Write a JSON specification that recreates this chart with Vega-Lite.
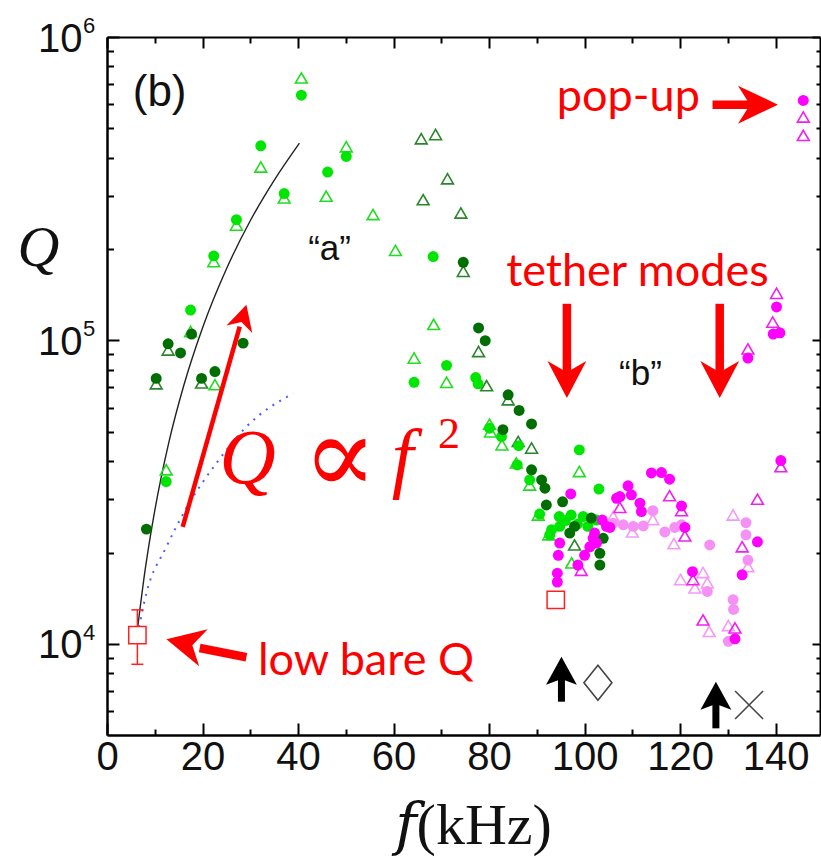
{
  "$schema": "https://vega.github.io/schema/vega-lite/v6.json",
  "width": 713,
  "height": 698,
  "autosize": "none",
  "padding": {"left": 107, "top": 37, "right": 1, "bottom": 123},
  "background": "white",
  "config": {"view": {"stroke": null}, "axis": {"grid": false}},
  "datasets": {
    "curveK": [
      {"f": 6.4, "Q": 11260}, {"f": 8, "Q": 17600}, {"f": 10, "Q": 27500}, {"f": 13, "Q": 46500},
      {"f": 16, "Q": 70400}, {"f": 20, "Q": 110000}, {"f": 25, "Q": 172000}, {"f": 30, "Q": 248000},
      {"f": 35, "Q": 337000}, {"f": 40.3, "Q": 447000}
    ],
    "curveB": [
      {"f": 6.37, "Q": 10700}, {"f": 8.25, "Q": 14700}, {"f": 12.44, "Q": 20900}, {"f": 16.6, "Q": 28000},
      {"f": 22.9, "Q": 39400}, {"f": 29.2, "Q": 52000}, {"f": 39.0, "Q": 67000}
    ],
    "pts": [
      {"f": 40.7, "Q": 733000, "s": "At"}, {"f": 32.2, "Q": 373000, "s": "At"}, {"f": 45.9, "Q": 299000, "s": "At"},
      {"f": 37.1, "Q": 295000, "s": "At"}, {"f": 27.1, "Q": 240000, "s": "At"}, {"f": 22.35, "Q": 182000, "s": "At"},
      {"f": 17.5, "Q": 107000, "s": "At"}, {"f": 12.4, "Q": 37500, "s": "At"}, {"f": 22.6, "Q": 71500, "s": "At"},
      {"f": 50.1, "Q": 435000, "s": "At"}, {"f": 55.7, "Q": 260000, "s": "At"}, {"f": 60.4, "Q": 198000, "s": "At"},
      {"f": 68.4, "Q": 113000, "s": "At"}, {"f": 64.3, "Q": 87500, "s": "At"}, {"f": 71.1, "Q": 72800, "s": "At"},
      {"f": 80.1, "Q": 53000, "s": "At"}, {"f": 82.7, "Q": 45300, "s": "At"}, {"f": 85.7, "Q": 39500, "s": "At"},
      {"f": 88.5, "Q": 33400, "s": "At"}, {"f": 98.9, "Q": 37000, "s": "At"}, {"f": 90.3, "Q": 26600, "s": "At"},
      {"f": 92.5, "Q": 22900, "s": "At"}, {"f": 97.3, "Q": 18500, "s": "At"}, {"f": 80.3, "Q": 50000, "s": "At"},

      {"f": 12.8, "Q": 93000, "s": "Bt"}, {"f": 10.3, "Q": 72000, "s": "Bt"}, {"f": 19.8, "Q": 72500, "s": "Bt"},
      {"f": 65.8, "Q": 462000, "s": "Bt"}, {"f": 68.8, "Q": 477000, "s": "Bt"}, {"f": 71.3, "Q": 341000, "s": "Bt"},
      {"f": 66.2, "Q": 291000, "s": "Bt"}, {"f": 74.1, "Q": 263000, "s": "Bt"}, {"f": 74.6, "Q": 169000, "s": "Bt"},
      {"f": 77.8, "Q": 92000, "s": "Bt"}, {"f": 79.5, "Q": 71000, "s": "Bt"}, {"f": 84.0, "Q": 63800, "s": "Bt"},
      {"f": 86.1, "Q": 46500, "s": "Bt"}, {"f": 88.9, "Q": 44200, "s": "Bt"}, {"f": 97.9, "Q": 21200, "s": "Bt"},

      {"f": 40.7, "Q": 643000, "s": "Ao"}, {"f": 32.2, "Q": 438000, "s": "Ao"}, {"f": 46.2, "Q": 359000, "s": "Ao"},
      {"f": 37.1, "Q": 305000, "s": "Ao"}, {"f": 27.1, "Q": 250000, "s": "Ao"}, {"f": 22.35, "Q": 190000, "s": "Ao"},
      {"f": 17.5, "Q": 126000, "s": "Ao"}, {"f": 12.4, "Q": 34300, "s": "Ao"}, {"f": 50.1, "Q": 404000, "s": "Ao"},
      {"f": 68.3, "Q": 189000, "s": "Ao"}, {"f": 71.1, "Q": 82800, "s": "Ao"}, {"f": 64.3, "Q": 72800, "s": "Ao"},
      {"f": 77.2, "Q": 75500, "s": "Ao"}, {"f": 77.7, "Q": 72000, "s": "Ao"}, {"f": 80.1, "Q": 51400, "s": "Ao"},
      {"f": 82.6, "Q": 48200, "s": "Ao"}, {"f": 86.2, "Q": 45000, "s": "Ao"}, {"f": 98.9, "Q": 43600, "s": "Ao"},
      {"f": 85.9, "Q": 38900, "s": "Ao"}, {"f": 88.5, "Q": 34700, "s": "Ao"}, {"f": 103.0, "Q": 32400, "s": "Ao"},
      {"f": 90.6, "Q": 26800, "s": "Ao"}, {"f": 94.7, "Q": 26300, "s": "Ao"}, {"f": 97.2, "Q": 26600, "s": "Ao"},
      {"f": 99.7, "Q": 26300, "s": "Ao"}, {"f": 102.5, "Q": 25600, "s": "Ao"}, {"f": 94.8, "Q": 24400, "s": "Ao"},
      {"f": 93.1, "Q": 23800, "s": "Ao"}, {"f": 100.7, "Q": 24400, "s": "Ao"}, {"f": 92.7, "Q": 22900, "s": "Ao"},
      {"f": 96.0, "Q": 25500, "s": "Ao"}, {"f": 98.5, "Q": 24800, "s": "Ao"},

      {"f": 17.7, "Q": 105000, "s": "Bo"}, {"f": 12.8, "Q": 97500, "s": "Bo"}, {"f": 15.4, "Q": 91000, "s": "Bo"},
      {"f": 28.5, "Q": 98000, "s": "Bo"}, {"f": 22.6, "Q": 79000, "s": "Bo"}, {"f": 19.8, "Q": 75000, "s": "Bo"},
      {"f": 10.3, "Q": 75000, "s": "Bo"}, {"f": 8.25, "Q": 23900, "s": "Bo"}, {"f": 74.6, "Q": 181000, "s": "Bo"},
      {"f": 77.8, "Q": 110000, "s": "Bo"}, {"f": 79.2, "Q": 99800, "s": "Bo"}, {"f": 84.0, "Q": 66200, "s": "Bo"},
      {"f": 86.3, "Q": 58800, "s": "Bo"}, {"f": 88.9, "Q": 53100, "s": "Bo"}, {"f": 82.9, "Q": 50800, "s": "Bo"},
      {"f": 88.9, "Q": 37500, "s": "Bo"}, {"f": 91.0, "Q": 34700, "s": "Bo"}, {"f": 91.7, "Q": 32600, "s": "Bo"},
      {"f": 92.0, "Q": 28700, "s": "Bo"}, {"f": 95.4, "Q": 29400, "s": "Bo"}, {"f": 101.4, "Q": 26000, "s": "Bo"},
      {"f": 97.9, "Q": 24400, "s": "Bo"}, {"f": 96.9, "Q": 23200, "s": "Bo"}, {"f": 103.9, "Q": 22300, "s": "Bo"},
      {"f": 103.2, "Q": 19900, "s": "Bo"}, {"f": 103.2, "Q": 18200, "s": "Bo"},

      {"f": 114.3, "Q": 25700, "s": "Dt"}, {"f": 106.0, "Q": 26300, "s": "Dt"}, {"f": 110.0, "Q": 23400, "s": "Dt"},
      {"f": 118.7, "Q": 21400, "s": "Dt"}, {"f": 131.1, "Q": 26600, "s": "Dt"}, {"f": 134.2, "Q": 18000, "s": "Dt"},
      {"f": 120.1, "Q": 16300, "s": "Dt"}, {"f": 124.8, "Q": 17200, "s": "Dt"}, {"f": 125.7, "Q": 15900, "s": "Dt"},
      {"f": 123.1, "Q": 15300, "s": "Dt"}, {"f": 126.1, "Q": 11000, "s": "Dt"}, {"f": 130.1, "Q": 11500, "s": "Dt"},

      {"f": 114.3, "Q": 27500, "s": "Do"}, {"f": 108.1, "Q": 24700, "s": "Do"}, {"f": 110.2, "Q": 24400, "s": "Do"},
      {"f": 112.3, "Q": 24500, "s": "Do"}, {"f": 116.8, "Q": 23400, "s": "Do"}, {"f": 118.9, "Q": 24200, "s": "Do"},
      {"f": 120.3, "Q": 24700, "s": "Do"}, {"f": 126.2, "Q": 21200, "s": "Do"}, {"f": 133.8, "Q": 25100, "s": "Do"},
      {"f": 133.8, "Q": 22900, "s": "Do"}, {"f": 134.2, "Q": 18900, "s": "Do"}, {"f": 125.7, "Q": 14900, "s": "Do"},
      {"f": 131.1, "Q": 14000, "s": "Do"}, {"f": 131.2, "Q": 13000, "s": "Do"}, {"f": 130.1, "Q": 10200, "s": "Do"},
      {"f": 106.0, "Q": 25000, "s": "Do"},

      {"f": 145.8, "Q": 545000, "s": "Ct"}, {"f": 145.8, "Q": 474000, "s": "Ct"}, {"f": 140.2, "Q": 143000, "s": "Ct"},
      {"f": 139.4, "Q": 115000, "s": "Ct"}, {"f": 134.2, "Q": 93800, "s": "Ct"}, {"f": 141.1, "Q": 38400, "s": "Ct"},
      {"f": 117.8, "Q": 30800, "s": "Ct"}, {"f": 120.3, "Q": 27500, "s": "Ct"}, {"f": 107.4, "Q": 28200, "s": "Ct"},
      {"f": 121.0, "Q": 22700, "s": "Ct"}, {"f": 136.2, "Q": 30000, "s": "Ct"}, {"f": 133.0, "Q": 20900, "s": "Ct"},
      {"f": 122.7, "Q": 16300, "s": "Ct"}, {"f": 124.8, "Q": 12000, "s": "Ct"}, {"f": 131.5, "Q": 11300, "s": "Ct"},
      {"f": 99.3, "Q": 17500, "s": "Ct"},

      {"f": 145.8, "Q": 618000, "s": "Co"}, {"f": 140.2, "Q": 129000, "s": "Co"}, {"f": 139.5, "Q": 105000, "s": "Co"},
      {"f": 140.9, "Q": 106000, "s": "Co"}, {"f": 134.2, "Q": 87500, "s": "Co"}, {"f": 141.1, "Q": 40200, "s": "Co"},
      {"f": 114.0, "Q": 36600, "s": "Co"}, {"f": 116.1, "Q": 36700, "s": "Co"}, {"f": 117.8, "Q": 34900, "s": "Co"},
      {"f": 120.3, "Q": 28500, "s": "Co"}, {"f": 109.1, "Q": 33200, "s": "Co"}, {"f": 106.7, "Q": 30200, "s": "Co"},
      {"f": 107.4, "Q": 30600, "s": "Co"}, {"f": 109.8, "Q": 31000, "s": "Co"}, {"f": 111.6, "Q": 29100, "s": "Co"},
      {"f": 111.9, "Q": 27300, "s": "Co"}, {"f": 105.3, "Q": 24200, "s": "Co"}, {"f": 121.0, "Q": 24200, "s": "Co"},
      {"f": 136.2, "Q": 21700, "s": "Co"}, {"f": 133.0, "Q": 16900, "s": "Co"}, {"f": 122.6, "Q": 17300, "s": "Co"},
      {"f": 131.5, "Q": 10400, "s": "Co"}, {"f": 97.1, "Q": 31200, "s": "Co"}, {"f": 103.7, "Q": 25600, "s": "Co"},
      {"f": 104.6, "Q": 24400, "s": "Co"}, {"f": 94.8, "Q": 21500, "s": "Co"}, {"f": 94.5, "Q": 19600, "s": "Co"},
      {"f": 98.6, "Q": 18200, "s": "Co"}, {"f": 100.0, "Q": 19600, "s": "Co"}, {"f": 101.1, "Q": 20900, "s": "Co"},
      {"f": 101.8, "Q": 22300, "s": "Co"}, {"f": 102.1, "Q": 23200, "s": "Co"}, {"f": 102.5, "Q": 21500, "s": "Co"},
      {"f": 94.3, "Q": 17100, "s": "Co"}, {"f": 94.3, "Q": 16000, "s": "Co"}
    ]
  },
  "layer": [
    {
      "encoding": {
        "x": {
          "field": "f", "type": "quantitative",
          "scale": {"domain": [0, 149.3], "nice": false, "zero": false},
          "axis": {
            "orient": "bottom",
            "values": [0, 10, 20, 30, 40, 50, 60, 70, 80, 90, 100, 110, 120, 130, 140],
            "labelExpr": "datum.value % 20 === 0 ? datum.label : ''",
            "tickSize": {"condition": {"test": "datum.value % 20 === 0", "value": -12}, "value": -6},
            "tickColor": "black", "tickWidth": 2,
            "domainColor": "black", "domainWidth": 2.5,
            "labelFont": "Liberation Sans", "labelFontSize": 40, "labelColor": "#111",
            "labelPadding": 14, "labelFlush": false, "labelOverlap": false,
            "title": "𝑓(kHz)", "titleFont": "Liberation Serif, DejaVu Serif", "titleFontSize": 58,
            "titleFontWeight": "normal", "titleColor": "#111",
            "titleX": 366, "titleY": 108, "titleBaseline": "alphabetic", "titleAlign": "center"
          }
        },
        "y": {
          "field": "Q", "type": "quantitative",
          "scale": {"type": "log", "domain": [5012, 1000000], "nice": false},
          "axis": {
            "orient": "left",
            "values": [6000, 7000, 8000, 9000, 10000, 20000, 30000, 40000, 50000, 60000, 70000, 80000, 90000, 100000, 200000, 300000, 400000, 500000, 600000, 700000, 800000, 900000, 1000000],
            "labelExpr": "datum.value === 10000 || datum.value === 100000 || datum.value === 1000000 ? '10' : ''",
            "tickSize": {"condition": {"test": "datum.value === 10000 || datum.value === 100000 || datum.value === 1000000", "value": -12}, "value": -6.5},
            "tickColor": "black", "tickWidth": 2,
            "domainColor": "black", "domainWidth": 2.5,
            "labelFont": "Liberation Sans", "labelFontSize": 40, "labelColor": "#111",
            "labelPadding": 37, "labelFlush": false, "labelOverlap": false, "labelBaseline": "middle", "labelOffset": 2,
            "title": "Q", "titleFont": "Liberation Serif", "titleFontSize": 58, "titleFontStyle": "italic",
            "titleFontWeight": "normal", "titleColor": "#111", "titleAngle": 0,
            "titleX": -69, "titleY": 211, "titleAlign": "center", "titleBaseline": "middle"
          }
        }
      },
      "layer": [
        {"data": {"name": "curveK"}, "mark": {"type": "line", "color": "#222", "strokeWidth": 1.4, "interpolate": "monotone"}},
        {"data": {"name": "curveB"}, "mark": {"type": "line", "color": "#4a5cff", "strokeWidth": 2, "strokeDash": [2, 6], "interpolate": "monotone"}},
        {
          "data": {"name": "pts"},
          "transform": [{"filter": "datum.s === 'At' || datum.s === 'Bt'"}],
          "mark": {"type": "point", "shape": "triangle-up", "filled": false, "size": 140, "strokeWidth": 1.6, "opacity": 1},
          "encoding": {"color": {"field": "s", "type": "nominal", "legend": null,
            "scale": {"domain": ["Ao", "At", "Bo", "Bt", "Co", "Ct", "Do", "Dt"], "range": ["#00e600", "#20dd20", "#006e00", "#2a852a", "#ff00ff", "#f020f0", "#f590f5", "#f59af5"]}}}
        },
        {
          "data": {"name": "pts"},
          "transform": [{"filter": "datum.s === 'Ao' || datum.s === 'Bo'"}],
          "mark": {"type": "point", "shape": "circle", "filled": true, "size": 120, "opacity": 1},
          "encoding": {"color": {"field": "s", "type": "nominal", "legend": null}}
        },
        {
          "data": {"name": "pts"},
          "transform": [{"filter": "datum.s === 'Dt' || datum.s === 'Ct'"}],
          "mark": {"type": "point", "shape": "triangle-up", "filled": false, "size": 140, "strokeWidth": 1.6, "opacity": 1},
          "encoding": {"color": {"field": "s", "type": "nominal", "legend": null}}
        },
        {
          "data": {"name": "pts"},
          "transform": [{"filter": "datum.s === 'Do' || datum.s === 'Co'"}],
          "mark": {"type": "point", "shape": "circle", "filled": true, "size": 120, "opacity": 1},
          "encoding": {"color": {"field": "s", "type": "nominal", "legend": null}}
        },
        {
          "data": {"values": [{"f": 6.36, "Q": 8570, "f2": 6.36, "Q2": 12950}]},
          "mark": {"type": "rule", "color": "#ff2020", "strokeWidth": 1.5},
          "encoding": {"x2": {"field": "f2"}, "y2": {"field": "Q2"}}
        },
        {
          "data": {"values": [{"f": 6.36, "Q": 8570}, {"f": 6.36, "Q": 12950}]},
          "mark": {"type": "point", "shape": "M-1,0L1,0", "size": 144, "filled": false, "stroke": "#ff2020", "strokeWidth": 1.5, "opacity": 1},
          "encoding": {}
        },
        {
          "data": {"values": [{"f": 6.36, "Q": 10700}, {"f": 93.97, "Q": 13970}]},
          "mark": {"type": "point", "shape": "square", "size": 300, "filled": false, "fill": "white", "stroke": "#ff2020", "strokeWidth": 1.5, "opacity": 1},
          "encoding": {}
        },
        {
          "data": {"values": [
            {"f": 126.8, "Q": 598500, "f2": 135.0, "Q2": 598500},
            {"f": 96.3, "Q": 132100, "f2": 96.3, "Q2": 74000},
            {"f": 128.3, "Q": 132100, "f2": 128.3, "Q2": 74000},
            {"f": 29.19, "Q": 9040, "f2": 19.41, "Q2": 9701}
          ]},
          "mark": {"type": "rule", "color": "#ff0000", "strokeWidth": 8.5},
          "encoding": {"x2": {"field": "f2"}, "y2": {"field": "Q2"}}
        },
        {
          "data": {"values": [{"f": 15.85, "Q": 24300, "f2": 27.79, "Q2": 111000}]},
          "mark": {"type": "rule", "color": "#ff0000", "strokeWidth": 4.5},
          "encoding": {"x2": {"field": "f2"}, "y2": {"field": "Q2"}}
        },
        {
          "data": {"values": [{"f": 140.5, "Q": 598500}]},
          "mark": {"type": "point", "shape": "M0,0L0.95,2L0,1.4L-0.95,2Z", "size": 1600, "filled": true, "color": "#ff0000", "angle": 90, "opacity": 1},
          "encoding": {}
        },
        {
          "data": {"values": [{"f": 96.3, "Q": 64600}, {"f": 128.3, "Q": 64600}]},
          "mark": {"type": "point", "shape": "M0,0L1.05,2L0,1.4L-1.05,2Z", "size": 1369, "filled": true, "color": "#ff0000", "angle": 180, "opacity": 1},
          "encoding": {}
        },
        {
          "data": {"values": [{"f": 12.44, "Q": 10360}]},
          "mark": {"type": "point", "shape": "M0,0L1,2L0,1.4L-1,2Z", "size": 1444, "filled": true, "color": "#ff0000", "angle": 283, "opacity": 1},
          "encoding": {}
        },
        {
          "data": {"values": [{"f": 29.19, "Q": 131100}]},
          "mark": {"type": "point", "shape": "M0,0L1.05,2L0,1.4L-1.05,2Z", "size": 650, "filled": true, "color": "#ff0000", "angle": 16, "opacity": 1},
          "encoding": {}
        },
        {
          "data": {"values": [
            {"f": 95.16, "Q": 6453, "f2": 95.16, "Q2": 7900},
            {"f": 127.5, "Q": 5272, "f2": 127.5, "Q2": 6500}
          ]},
          "mark": {"type": "rule", "color": "#000000", "strokeWidth": 7},
          "encoding": {"x2": {"field": "f2"}, "y2": {"field": "Q2"}}
        },
        {
          "data": {"values": [{"f": 95.16, "Q": 9081}, {"f": 127.5, "Q": 7513}]},
          "mark": {"type": "point", "shape": "M0,0L1.1,2L0,1.6L-1.1,2Z", "size": 784, "filled": true, "color": "#000000", "opacity": 1},
          "encoding": {}
        },
        {
          "data": {"values": [{"f": 102.8, "Q": 7455}]},
          "mark": {"type": "point", "shape": "M0,-1.25L1,0L0,1.25L-1,0Z", "size": 784, "filled": false, "stroke": "#444", "strokeWidth": 1.6, "opacity": 1},
          "encoding": {}
        },
        {
          "data": {"values": [{"f": 134.45, "Q": 6294}]},
          "mark": {"type": "point", "shape": "M-1,-1L1,1M1,-1L-1,1", "size": 784, "filled": false, "stroke": "#444", "strokeWidth": 1.6, "opacity": 1},
          "encoding": {}
        },
        {
          "data": {"values": [{"f": 0, "Q": 10000, "t": "4"}, {"f": 0, "Q": 100000, "t": "5"}, {"f": 0, "Q": 1000000, "t": "6"}]},
          "mark": {"type": "text", "font": "Liberation Sans", "fontSize": 22, "align": "left", "baseline": "alphabetic", "color": "#111", "dx": -24, "dy": -4},
          "encoding": {"text": {"field": "t"}}
        },
        {
          "data": {"values": [{"f": 5.39, "Q": 594000, "t": "(b)"}]},
          "mark": {"type": "text", "font": "Liberation Sans", "fontSize": 44, "align": "left", "baseline": "alphabetic", "color": "#111"},
          "encoding": {"text": {"field": "t"}}
        },
        {
          "data": {"values": [{"f": 46.6, "Q": 184500, "t": "“a”"}, {"f": 111.7, "Q": 71500, "t": "“b”"}]},
          "mark": {"type": "text", "font": "Liberation Sans", "fontSize": 35, "align": "center", "baseline": "alphabetic", "color": "#111"},
          "encoding": {"text": {"field": "t"}}
        },
        {
          "data": {"values": [
            {"f": 94.2, "Q": 572000, "t": "pop-up"},
            {"f": 83.6, "Q": 150700, "t": "tether modes"},
            {"f": 31.6, "Q": 7903, "t": "low bare Q"}
          ]},
          "mark": {"type": "text", "font": "Lato", "fontSize": 45, "align": "left", "baseline": "alphabetic", "color": "#ff0000"},
          "encoding": {"text": {"field": "t"}}
        },
        {
          "data": {"values": [{"f": 23.57, "Q": 34000, "t": "Q"}, {"f": 59.6, "Q": 34000, "t": "f"}]},
          "mark": {"type": "text", "font": "Liberation Serif", "fontSize": 78, "fontStyle": "italic", "align": "left", "baseline": "alphabetic", "color": "#ff0000"},
          "encoding": {"text": {"field": "t"}}
        },
        {
          "data": {"values": [{"f": 41.0, "Q": 31500, "t": "∝"}]},
          "mark": {"type": "text", "font": "DejaVu Serif", "fontSize": 110, "align": "left", "baseline": "alphabetic", "color": "#ff0000"},
          "encoding": {"text": {"field": "t"}}
        },
        {
          "data": {"values": [{"f": 69.3, "Q": 44300, "t": "2"}]},
          "mark": {"type": "text", "font": "Liberation Serif", "fontSize": 44, "align": "left", "baseline": "alphabetic", "color": "#ff0000"},
          "encoding": {"text": {"field": "t"}}
        }
      ]
    },
    {
      "data": {"values": [{"f": 0, "Q": 10000}]},
      "mark": {"type": "point", "opacity": 0},
      "encoding": {
        "x": {
          "field": "f", "type": "quantitative",
          "scale": {"domain": [0, 149.3], "nice": false, "zero": false},
          "axis": {
            "orient": "top",
            "values": [0, 10, 20, 30, 40, 50, 60, 70, 80, 90, 100, 110, 120, 130, 140],
            "labels": false, "title": null,
            "tickSize": {"condition": {"test": "datum.value % 20 === 0", "value": -11}, "value": -6},
            "tickColor": "black", "tickWidth": 2, "domainColor": "black", "domainWidth": 2
          }
        },
        "y": {
          "field": "Q", "type": "quantitative",
          "scale": {"type": "log", "domain": [5012, 1000000], "nice": false},
          "axis": {
            "orient": "right",
            "values": [6000, 7000, 8000, 9000, 10000, 20000, 30000, 40000, 50000, 60000, 70000, 80000, 90000, 100000, 200000, 300000, 400000, 500000, 600000, 700000, 800000, 900000, 1000000],
            "labels": false, "title": null,
            "tickSize": {"condition": {"test": "datum.value === 10000 || datum.value === 100000 || datum.value === 1000000", "value": -8}, "value": -4},
            "tickColor": "black", "tickWidth": 2, "domainColor": "black", "domainWidth": 2
          }
        }
      }
    }
  ],
  "resolve": {"scale": {"x": "independent", "y": "independent"}}
}
